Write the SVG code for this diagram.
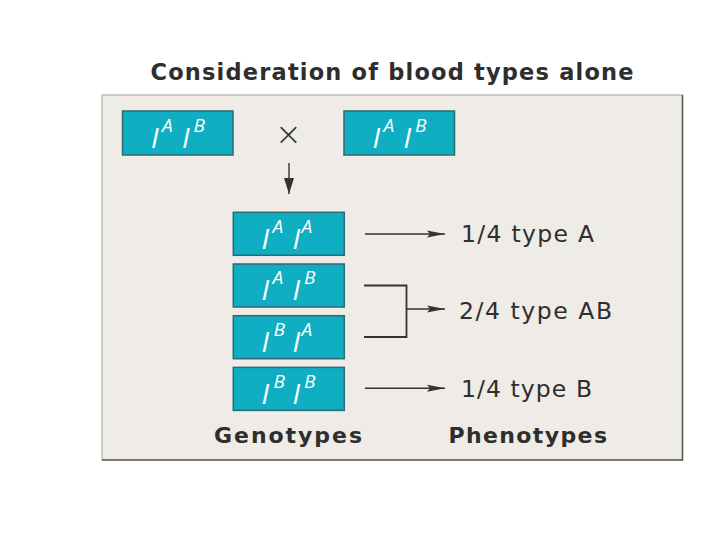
<svg xmlns="http://www.w3.org/2000/svg" width="720" height="540" viewBox="0 0 720 540">
  <style>
    .title { font-family: "DejaVu Sans", sans-serif; font-weight: 700; font-size: 22.5px; fill: #2e2e2e; }
    .pheno { font-family: "DejaVu Sans", sans-serif; font-size: 23.5px; fill: #2e2e2e; }
    .lab { font-family: "DejaVu Sans", sans-serif; font-weight: 700; font-size: 22px; fill: #2e2e2e; }
    .box { fill: #10aec2; stroke: #2d6a72; stroke-width: 1.5; }
    .g { font-family: "Open Sans", "DejaVu Sans", sans-serif; font-style: italic; fill: #ffffff; }
    .big { font-size: 28px; }
    .sup { font-size: 19px; }
    .conn { fill: none; stroke: #333333; stroke-width: 1.4; }
    .brk { fill: none; stroke: #333333; stroke-width: 1.8; }
    .times { font-family: "DejaVu Sans", sans-serif; font-weight: 200; font-size: 32px; fill: #333333; }
  </style>
  <defs>
    <marker id="ah" viewBox="0 0 18 8" refX="18" refY="4" markerWidth="18" markerHeight="8" markerUnits="userSpaceOnUse" orient="auto">
      <path d="M0,0.5 L18,4 L0,7.5 L3,4 z" fill="#333333"/>
    </marker>
    <marker id="ahd" viewBox="0 0 16 10" refX="16" refY="5" markerWidth="16" markerHeight="10" markerUnits="userSpaceOnUse" orient="auto">
      <path d="M0,0 L16,5 L0,10 z" fill="#333333"/>
    </marker>
  </defs>
  <rect width="720" height="540" fill="#ffffff"/>
  <text class="title" x="392" y="80" text-anchor="middle" textLength="483" lengthAdjust="spacing">Consideration of blood types alone</text>
  <g id="panel">
    <rect x="102" y="95" width="580.5" height="365" fill="#efebe6" stroke="#a9a6a2" stroke-width="1"/>
    <line x1="682.5" y1="95" x2="682.5" y2="460.5" stroke="#5a5a5a" stroke-width="1.6"/>
    <line x1="102" y1="460" x2="683" y2="460" stroke="#5a5a5a" stroke-width="1.6"/>
  </g>
  <g id="parent1">
    <rect class="box" x="122.5" y="111" width="110.5" height="44"/>
    <text class="g"><tspan class="big" x="151" y="148">I</tspan><tspan class="sup" x="162" y="132">A</tspan><tspan class="big" x="182" y="148">I</tspan><tspan class="sup" x="193.5" y="132">B</tspan></text>
  </g>
  <g id="cross">
    <text class="times" x="288.5" y="145" text-anchor="middle">×</text>
  </g>
  <g id="parent2">
    <rect class="box" x="344" y="111" width="110.5" height="44"/>
    <text class="g"><tspan class="big" x="372.5" y="148">I</tspan><tspan class="sup" x="383.5" y="132">A</tspan><tspan class="big" x="403.5" y="148">I</tspan><tspan class="sup" x="415" y="132">B</tspan></text>
  </g>
  <g id="g1">
    <rect class="box" x="233.3" y="212.3" width="111" height="43"/>
    <text class="g"><tspan class="big" x="261.5" y="248.5">I</tspan><tspan class="sup" x="272.5" y="232.5">A</tspan><tspan class="big" x="292.5" y="248.5">I</tspan><tspan class="sup" x="301.5" y="232.5">A</tspan></text>
  </g>
  <g id="g2">
    <rect class="box" x="233.3" y="264" width="111" height="43"/>
    <text class="g"><tspan class="big" x="261.5" y="300.2">I</tspan><tspan class="sup" x="272.5" y="284.2">A</tspan><tspan class="big" x="292.5" y="300.2">I</tspan><tspan class="sup" x="304" y="284.2">B</tspan></text>
  </g>
  <g id="g3">
    <rect class="box" x="233.3" y="315.7" width="111" height="43"/>
    <text class="g"><tspan class="big" x="261.5" y="351.9">I</tspan><tspan class="sup" x="273.5" y="335.9">B</tspan><tspan class="big" x="292.5" y="351.9">I</tspan><tspan class="sup" x="301.5" y="335.9">A</tspan></text>
  </g>
  <g id="g4">
    <rect class="box" x="233.3" y="367.4" width="111" height="43"/>
    <text class="g"><tspan class="big" x="261.5" y="403.6">I</tspan><tspan class="sup" x="273.5" y="387.6">B</tspan><tspan class="big" x="292.5" y="403.6">I</tspan><tspan class="sup" x="304" y="387.6">B</tspan></text>
  </g>
  <g id="connectors">
    <line class="conn" x1="289" y1="163" x2="289" y2="194" marker-end="url(#ahd)"/>
    <line class="conn" x1="365" y1="234" x2="445" y2="234" marker-end="url(#ah)"/>
    <polyline class="brk" points="364,285.5 406.5,285.5 406.5,337 364,337"/>
    <line class="conn" x1="406.5" y1="309" x2="445" y2="309" marker-end="url(#ah)"/>
    <line class="conn" x1="365" y1="388.3" x2="445" y2="388.3" marker-end="url(#ah)"/>
  </g>
  <g id="phenotypes">
    <text class="pheno" x="461" y="242" textLength="133" lengthAdjust="spacing">1/4 type A</text>
    <text class="pheno" x="459" y="318.5" textLength="153" lengthAdjust="spacing">2/4 type AB</text>
    <text class="pheno" x="461" y="396.5" textLength="131" lengthAdjust="spacing">1/4 type B</text>
  </g>
  <g id="labels">
    <text class="lab" x="214" y="443" textLength="148" lengthAdjust="spacing">Genotypes</text>
    <text class="lab" x="448.5" y="443" textLength="158.5" lengthAdjust="spacing">Phenotypes</text>
  </g>
</svg>
